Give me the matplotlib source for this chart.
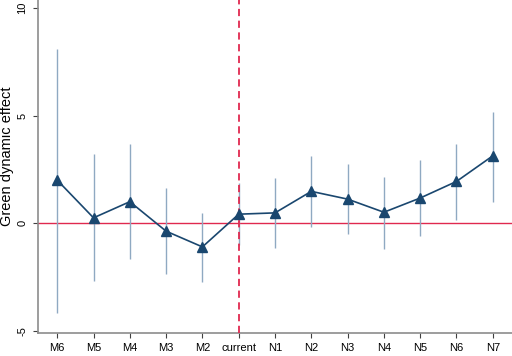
import numpy as np
import matplotlib
matplotlib.use("Agg")
import matplotlib.pyplot as plt

plt.rcParams["font.family"] = ["Liberation Sans", "DejaVu Sans"]

# Event-time labels and estimates
periods = ["M6", "M5", "M4", "M3", "M2", "current",
           "N1", "N2", "N3", "N4", "N5", "N6", "N7"]
coef = [2.0, 0.25, 1.0, -0.37, -1.1, 0.42, 0.48, 1.48, 1.12, 0.51, 1.17, 1.94, 3.13]
ci_hi = [8.1, 3.2, 3.66, 1.62, 0.48, 1.85, 2.08, 3.1, 2.77, 2.15, 2.92, 3.7, 5.19]
ci_lo = [-4.17, -2.7, -1.67, -2.35, -2.73, -1.0, -1.16, -0.17, -0.52, -1.19, -0.59, 0.14, 0.99]

x = np.arange(len(periods))

fig = plt.figure(figsize=(5.12, 3.56), dpi=100)
ax = fig.add_axes([0.0742, 0.0646, 0.9258, 0.9354])

# confidence intervals
ax.vlines(x, ci_lo, ci_hi, color="#8fa9c2", lw=1.0, zorder=2)

# reference lines
ax.axhline(0, color="#e0294f", lw=1.0, zorder=1)
ax.axvline(periods.index("current"), color="#e0294f", lw=1.3, ls=(0, (4, 2.5)), zorder=3)

# point estimates
ax.plot(x, coef, color="#1a476f", lw=1.2, marker="^", ms=6.5, zorder=4)

ax.set_xlim(-0.53, 12.53)
ax.set_ylim(-5.1, 10.37)
ax.set_xticks(x)
ax.set_xticklabels(periods, fontsize=8)
ax.set_yticks([-5, 0, 5, 10])
ax.set_yticklabels(["-5", "0", "5", "10"], rotation=90, va="center", fontsize=8)
ax.set_ylabel("Green dynamic effect", fontsize=10.5)
ax.yaxis.set_label_coords(-0.05, 0.53)

for s in ["top", "right"]:
    ax.spines[s].set_visible(False)
ax.spines["left"].set_color("#8c8c8c")
ax.spines["bottom"].set_color("#8c8c8c")
ax.spines["left"].set_linewidth(1.2)
ax.spines["bottom"].set_linewidth(1.2)
ax.tick_params(colors="#404040", length=3.5, width=0.8, labelcolor="black", pad=4)

fig.savefig("out.png", dpi=100)
